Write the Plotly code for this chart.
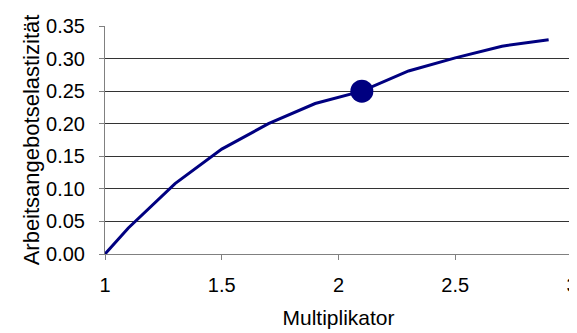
import plotly.graph_objects as go

# Data
multiplikator = [1.0, 1.1, 1.3, 1.5, 1.7, 1.9, 2.1, 2.3, 2.5, 2.7, 2.9]
elastizitaet = [0.0, 0.04, 0.108, 0.161, 0.200, 0.231, 0.250, 0.281, 0.301, 0.319, 0.329]
marker_x = [2.1]
marker_y = [0.25]
x_ticks = [1, 1.5, 2, 2.5, 3]
y_ticks = [0.0, 0.05, 0.10, 0.15, 0.20, 0.25, 0.30, 0.35]

NAVY = "#000080"
FONT = "Liberation Sans, Arial, sans-serif"

fig = go.Figure()
fig.add_trace(go.Scatter(
    x=multiplikator, y=elastizitaet, mode="lines",
    line=dict(color=NAVY, width=3), showlegend=False, hoverinfo="skip"))
fig.add_trace(go.Scatter(
    x=marker_x, y=marker_y, mode="markers",
    marker=dict(color=NAVY, size=23, line=dict(width=0)), showlegend=False))

# page body has an 8px default margin, so the figure is sized to fit inside
fig.update_layout(
    width=569, height=325,
    margin=dict(l=97, r=5, t=18, b=79),
    paper_bgcolor="white", plot_bgcolor="white",
    font=dict(family=FONT, size=20, color="black"),
    xaxis=dict(
        range=[1, 3], tickvals=x_ticks, ticktext=[str(v) for v in x_ticks],
        automargin=False, ticklabeloverflow="allow",
        showgrid=False, zeroline=False,
        showline=True, linecolor="#808080", linewidth=1,
        ticks="outside", ticklen=5, tickcolor="#808080",
        ticklabelstandoff=8,
        title=dict(text="Multiplikator", standoff=15, font=dict(size=21)),
    ),
    yaxis=dict(
        range=[0, 0.35], tickvals=y_ticks, tickformat=".2f",
        automargin=False,
        showgrid=True, gridcolor="#333333", gridwidth=1,
        zeroline=False,
        showline=True, linecolor="#808080", linewidth=1,
        ticks="outside", ticklen=5, tickcolor="#808080",
        ticklabelstandoff=10,
        title=dict(text="Arbeitsangebotselastizität", standoff=0, font=dict(size=22)),
    ),
)

fig.write_html("out.html")
